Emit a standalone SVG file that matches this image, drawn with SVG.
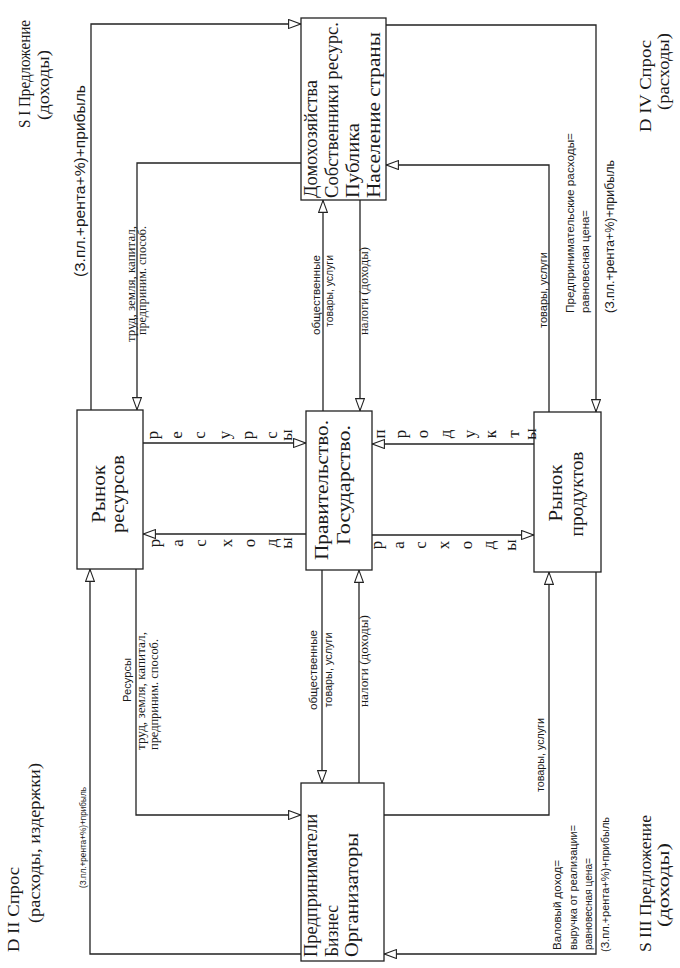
<svg xmlns="http://www.w3.org/2000/svg" width="680" height="968" viewBox="0 0 680 968">
<style>
.ln{fill:none;stroke:#222;stroke-width:1.3}
.bx{fill:#fff;stroke:#222;stroke-width:1.3}
.sf{font-family:"Liberation Serif","Times New Roman",serif;fill:#1a1a1a}
.ss{font-family:"Liberation Sans",Arial,sans-serif;fill:#1a1a1a}
.bt{font-size:19.5px}
.big{font-size:17px}
.lt{font-size:17px}
.m{text-anchor:middle}
.e{text-anchor:end}
</style>
<defs>
<marker id="ah" viewBox="0 0 13 10" refX="13" refY="5" markerWidth="13" markerHeight="10" orient="auto" markerUnits="userSpaceOnUse">
<path d="M0.6,0.6 L12.6,5 L0.6,9.4 Z" fill="#fff" stroke="#222" stroke-width="1.1"/>
</marker>
</defs>
<rect width="680" height="968" fill="#fff"/>

<g id="connectors">
<path class="ln" d="M91,410 V24 H301" marker-end="url(#ah)"/>
<path class="ln" d="M301,163 H137 V410" marker-end="url(#ah)"/>
<path class="ln" d="M136,569 V815 H301" marker-end="url(#ah)"/>
<path class="ln" d="M301,954 H90 V569" marker-end="url(#ah)"/>
<path class="ln" d="M386,25 H596 V412" marker-end="url(#ah)"/>
<path class="ln" d="M549,412 V165 H386" marker-end="url(#ah)"/>
<path class="ln" d="M596,572 V954 H384" marker-end="url(#ah)"/>
<path class="ln" d="M384,815 H549 V572" marker-end="url(#ah)"/>
<path class="ln" d="M323,411 V200" marker-end="url(#ah)"/>
<path class="ln" d="M360,200 V411" marker-end="url(#ah)"/>
<path class="ln" d="M322,570 V783" marker-end="url(#ah)"/>
<path class="ln" d="M359,783 V570" marker-end="url(#ah)"/>
<path class="ln" d="M143,443 H306" marker-end="url(#ah)"/>
<path class="ln" d="M306,534 H143" marker-end="url(#ah)"/>
<path class="ln" d="M534,444 H372" marker-end="url(#ah)"/>
<path class="ln" d="M372,535 H534" marker-end="url(#ah)"/>
</g>

<g id="households">
<rect class="bx" x="301" y="18" width="85" height="182"/>
<text class="sf bt" transform="translate(317,198) rotate(-90)" textLength="118" lengthAdjust="spacingAndGlyphs">Домохозяйства</text>
<text class="sf bt" transform="translate(338,198) rotate(-90)" textLength="176" lengthAdjust="spacingAndGlyphs">Собственники ресурс.</text>
<text class="sf bt" transform="translate(359,198) rotate(-90)" textLength="75" lengthAdjust="spacingAndGlyphs">Публика</text>
<text class="sf bt" transform="translate(380,198) rotate(-90)" textLength="166" lengthAdjust="spacingAndGlyphs">Население страны</text>
</g>

<g id="resource-market">
<rect class="bx" x="77" y="410" width="66" height="159"/>
<text class="sf bt m" transform="translate(105,494) rotate(-90)" textLength="58" lengthAdjust="spacingAndGlyphs">Рынок</text>
<text class="sf bt m" transform="translate(124,494) rotate(-90)" textLength="78" lengthAdjust="spacingAndGlyphs">ресурсов</text>
</g>

<g id="government">
<rect class="bx" x="306" y="411" width="66" height="159"/>
<text class="sf bt m" transform="translate(328,490) rotate(-90)" textLength="140" lengthAdjust="spacingAndGlyphs">Правительство.</text>
<text class="sf bt m" transform="translate(350,485) rotate(-90)" textLength="120" lengthAdjust="spacingAndGlyphs">Государство.</text>
</g>

<g id="product-market">
<rect class="bx" x="534" y="412" width="67" height="160"/>
<text class="sf bt m" transform="translate(562,493) rotate(-90)" textLength="57" lengthAdjust="spacingAndGlyphs">Рынок</text>
<text class="sf bt m" transform="translate(583,494) rotate(-90)" textLength="85" lengthAdjust="spacingAndGlyphs">продуктов</text>
</g>

<g id="entrepreneurs">
<rect class="bx" x="301" y="783" width="83" height="178"/>
<text class="sf bt" transform="translate(317,957) rotate(-90)" textLength="143" lengthAdjust="spacingAndGlyphs">Предприниматели</text>
<text class="sf bt" transform="translate(338,957) rotate(-90)" textLength="52" lengthAdjust="spacingAndGlyphs">Бизнес</text>
<text class="sf bt" transform="translate(358,957) rotate(-90)" textLength="124" lengthAdjust="spacingAndGlyphs">Организаторы</text>
</g>

<g id="corner-labels">
<text class="sf" font-size="16" transform="translate(30,128) rotate(-90)" textLength="108" lengthAdjust="spacingAndGlyphs">S I Предложение</text>
<text class="sf" font-size="16" transform="translate(49,120) rotate(-90)" textLength="70" lengthAdjust="spacingAndGlyphs">(доходы)</text>
<text class="ss" font-size="15.5" transform="translate(85,277) rotate(-90)" textLength="192" lengthAdjust="spacingAndGlyphs">(З.пл.+рента+%)+прибыль</text>
<text class="sf big" transform="translate(651,132) rotate(-90)" textLength="92" lengthAdjust="spacingAndGlyphs">D IV Спрос</text>
<text class="sf big" transform="translate(669,110) rotate(-90)" textLength="77" lengthAdjust="spacingAndGlyphs">(расходы)</text>
<text class="sf big" transform="translate(19,952) rotate(-90)" textLength="85" lengthAdjust="spacingAndGlyphs">D II Спрос</text>
<text class="sf big" transform="translate(40,923) rotate(-90)" textLength="160" lengthAdjust="spacingAndGlyphs">(расходы, издержки)</text>
<text class="sf big" transform="translate(651,952) rotate(-90)" textLength="137" lengthAdjust="spacingAndGlyphs">S III Предложение</text>
<text class="sf big" transform="translate(669,927) rotate(-90)" textLength="84" lengthAdjust="spacingAndGlyphs">(доходы)</text>
</g>

<g id="flow-labels">
<text class="sf e" font-size="12.5" transform="translate(135,226) rotate(-90)" textLength="116" lengthAdjust="spacingAndGlyphs">труд, земля, капитал,</text>
<text class="sf e" font-size="12.5" transform="translate(146,226) rotate(-90)" textLength="109" lengthAdjust="spacingAndGlyphs">предприним. способ.</text>

<text class="ss m" font-size="11" transform="translate(131,680) rotate(-90)" textLength="44" lengthAdjust="spacingAndGlyphs">Ресурсы</text>
<text class="sf" font-size="12.5" transform="translate(145,750) rotate(-90)" textLength="118" lengthAdjust="spacingAndGlyphs">труд, земля, капитал,</text>
<text class="sf" font-size="12.5" transform="translate(158,750) rotate(-90)" textLength="111" lengthAdjust="spacingAndGlyphs">предприним. способ.</text>

<text class="ss m" font-size="11" transform="translate(320,295) rotate(-90)" textLength="80" lengthAdjust="spacingAndGlyphs">общественные</text>
<text class="ss m" font-size="11" transform="translate(333,291) rotate(-90)" textLength="72" lengthAdjust="spacingAndGlyphs">товары, услуги</text>
<text class="sf m" font-size="12.5" transform="translate(368,291) rotate(-90)" textLength="88" lengthAdjust="spacingAndGlyphs">налоги (доходы)</text>

<text class="ss m" font-size="11" transform="translate(317,670) rotate(-90)" textLength="80" lengthAdjust="spacingAndGlyphs">общественные</text>
<text class="ss m" font-size="11" transform="translate(332,670) rotate(-90)" textLength="75" lengthAdjust="spacingAndGlyphs">товары, услуги</text>
<text class="sf m" font-size="12.5" transform="translate(368,661) rotate(-90)" textLength="92" lengthAdjust="spacingAndGlyphs">налоги (доходы)</text>

<text class="ss m" font-size="11" transform="translate(547,290) rotate(-90)" textLength="76" lengthAdjust="spacingAndGlyphs">товары, услуги</text>
<text class="ss" font-size="11.5" transform="translate(574,313) rotate(-90)" textLength="180" lengthAdjust="spacingAndGlyphs">Предпринимательские расходы=</text>
<text class="ss" font-size="11.5" transform="translate(589,313) rotate(-90)" textLength="103" lengthAdjust="spacingAndGlyphs">равновесная цена=</text>
<text class="ss" font-size="12.5" transform="translate(614,313) rotate(-90)" textLength="153" lengthAdjust="spacingAndGlyphs">(З.пл.+рента+%)+прибыль</text>

<text class="ss m" font-size="11" transform="translate(544,755) rotate(-90)" textLength="74" lengthAdjust="spacingAndGlyphs">товары, услуги</text>
<text class="ss" font-size="11.5" transform="translate(561,950) rotate(-90)" textLength="90" lengthAdjust="spacingAndGlyphs">Валовый доход=</text>
<text class="ss" font-size="11.5" transform="translate(577,950) rotate(-90)" textLength="125" lengthAdjust="spacingAndGlyphs">выручка от реализации=</text>
<text class="ss" font-size="11.5" transform="translate(592,950) rotate(-90)" textLength="92" lengthAdjust="spacingAndGlyphs">равновесная цена=</text>
<text class="ss" font-size="11" transform="translate(609,952) rotate(-90)" textLength="135" lengthAdjust="spacingAndGlyphs">(З.пл.+рента+%)+прибыль</text>

<text class="ss" font-size="9.5" transform="translate(86,888) rotate(-90)" textLength="101" lengthAdjust="spacingAndGlyphs">(З.пл.+рента+%)+прибыль</text>
</g>

<g id="letter-labels" class="sf lt m">
<text transform="translate(158,435) rotate(-90)">р</text>
<text transform="translate(181.5,435) rotate(-90)">е</text>
<text transform="translate(205,435) rotate(-90)">с</text>
<text transform="translate(230,435) rotate(-90)">у</text>
<text transform="translate(253,435) rotate(-90)">р</text>
<text transform="translate(276.5,435) rotate(-90)">с</text>
<text transform="translate(292,435) rotate(-90)">ы</text>

<text transform="translate(160,543) rotate(-90)">р</text>
<text transform="translate(183,543) rotate(-90)">а</text>
<text transform="translate(206,543) rotate(-90)">с</text>
<text transform="translate(232,543) rotate(-90)">х</text>
<text transform="translate(255,543) rotate(-90)">о</text>
<text transform="translate(277,543) rotate(-90)">д</text>
<text transform="translate(292,543) rotate(-90)">ы</text>

<text transform="translate(385,434) rotate(-90)">п</text>
<text transform="translate(406,434) rotate(-90)">р</text>
<text transform="translate(428,434) rotate(-90)">о</text>
<text transform="translate(451,434) rotate(-90)">д</text>
<text transform="translate(475,434) rotate(-90)">у</text>
<text transform="translate(496,434) rotate(-90)">к</text>
<text transform="translate(519,434) rotate(-90)">т</text>
<text transform="translate(536,434) rotate(-90)">ы</text>

<text transform="translate(382,545) rotate(-90)">р</text>
<text transform="translate(404,545) rotate(-90)">а</text>
<text transform="translate(426,545) rotate(-90)">с</text>
<text transform="translate(449,545) rotate(-90)">х</text>
<text transform="translate(472,545) rotate(-90)">о</text>
<text transform="translate(494,545) rotate(-90)">д</text>
<text transform="translate(516,545) rotate(-90)">ы</text>
</g>
</svg>
